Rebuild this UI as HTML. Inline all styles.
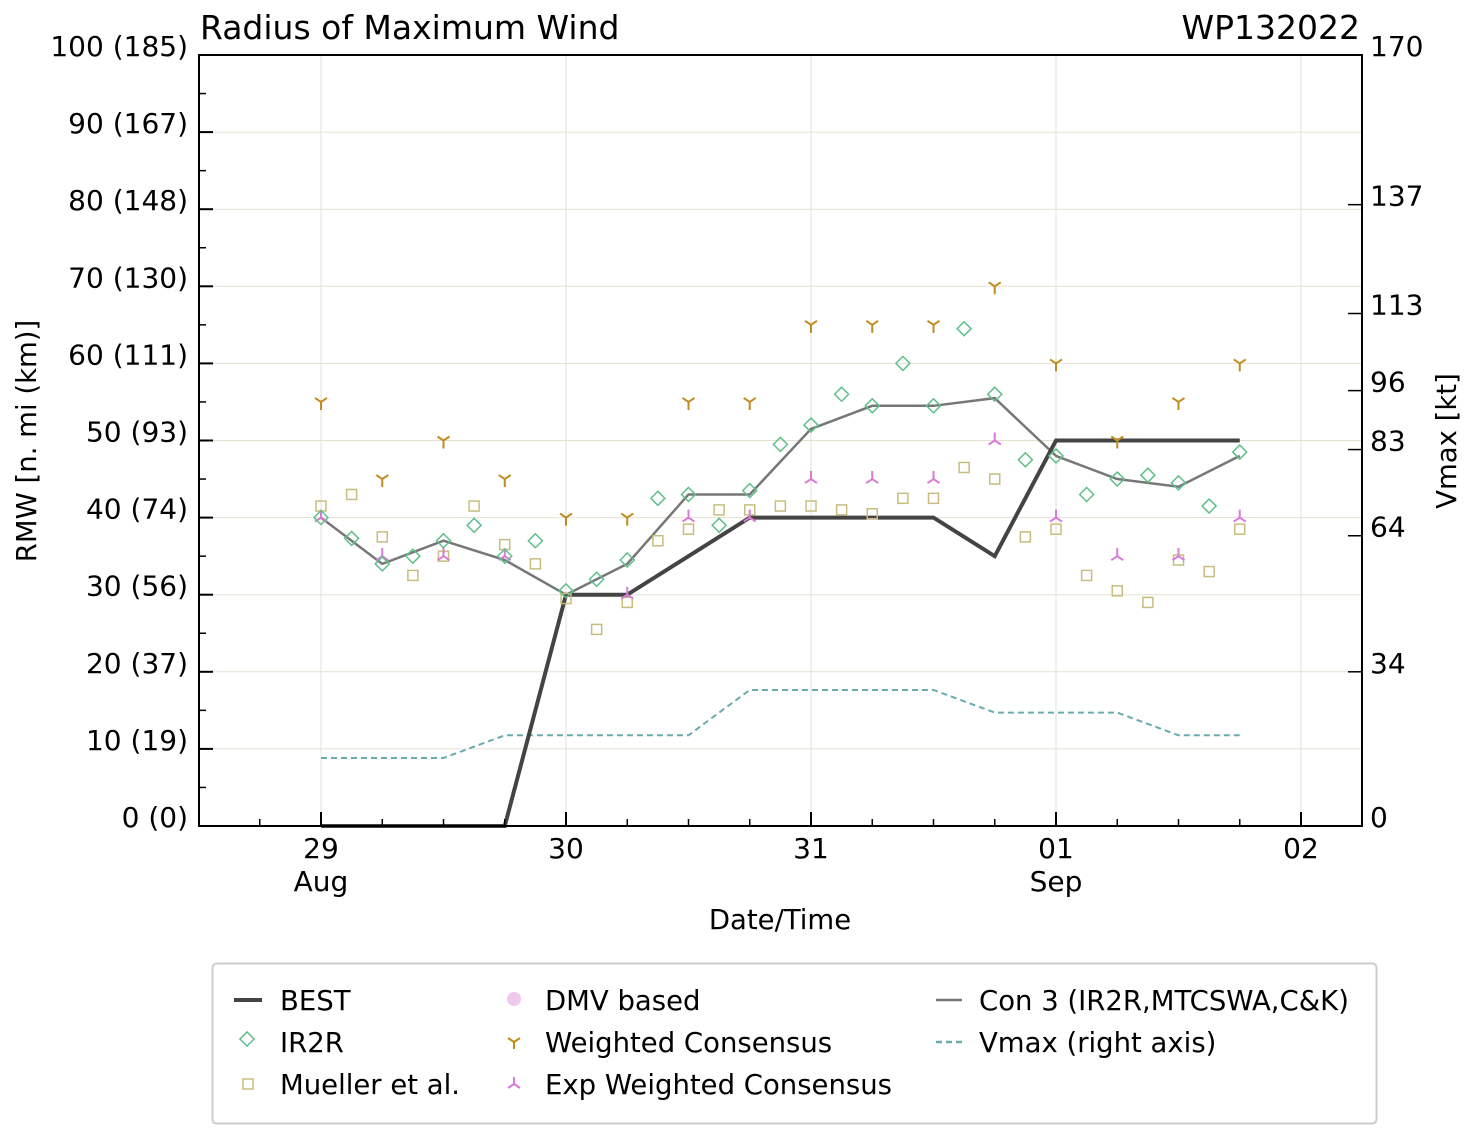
<!DOCTYPE html>
<html><head><meta charset="utf-8"><style>
body{margin:0;background:#fff;}
svg text{font-family:"DejaVu Sans","Liberation Sans",sans-serif;fill:#000;}
</style></head><body>
<svg id="c" width="1477" height="1138" xmlns="http://www.w3.org/2000/svg">
<rect width="1477" height="1138" fill="#fff"/>
<g id="grid"></g><g id="series"></g><g id="axes"></g>
<text x="200" y="39" font-size="33">Radius of Maximum Wind</text>
<text x="1360" y="39" font-size="33" text-anchor="end">WP132022</text>
<text x="780" y="929" font-size="27.5" text-anchor="middle">Date/Time</text>
<text transform="translate(36,441) rotate(-90)" font-size="27.5" text-anchor="middle">RMW [n. mi (km)]</text>
<text transform="translate(1456,441) rotate(-90)" font-size="27.5" text-anchor="middle">Vmax [kt]</text>
<g>
<rect x="212.5" y="963.5" width="1164" height="160" rx="4" fill="#fff" stroke="#ccc" stroke-width="2"/>
<line x1="234" y1="1000" x2="262" y2="1000" stroke="#444" stroke-width="4"/>
<text x="280" y="1010" font-size="27.5">BEST</text>
<rect x="242" y="1034" width="10" height="10" transform="rotate(45 247 1039)" fill="none" stroke="#5fbf8a" stroke-width="1.5"/>
<text x="280" y="1052" font-size="27.5">IR2R</text>
<rect x="243" y="1079" width="10" height="10" fill="none" stroke="#c8bd7f" stroke-width="1.5"/>
<text x="280" y="1094" font-size="27.5">Mueller et al.</text>
<circle cx="514" cy="999" r="7" fill="#f0c8ec"/>
<text x="545" y="1010" font-size="27.5">DMV based</text>
<path d="M514 1042 v7 M514 1042 l-6 -4 M514 1042 l6 -4" stroke="#c08c20" stroke-width="2" fill="none"/>
<text x="545" y="1052" font-size="27.5">Weighted Consensus</text>
<path d="M514 1084 v-7 M514 1084 l-6 4 M514 1084 l6 4" stroke="#d87ad8" stroke-width="2" fill="none"/>
<text x="545" y="1094" font-size="27.5">Exp Weighted Consensus</text>
<line x1="936" y1="1000" x2="962" y2="1000" stroke="#777" stroke-width="2.5"/>
<text x="979" y="1010" font-size="27.5">Con 3 (IR2R,MTCSWA,C&amp;K)</text>
<line x1="936" y1="1042" x2="962" y2="1042" stroke="#6aabb0" stroke-width="2.5" stroke-dasharray="6,4"/>
<text x="979" y="1052" font-size="27.5">Vmax (right axis)</text>
</g>
</svg>
<script>
const bestT=[0,2,4,6,8,10,12,14,16,18,20,22,24,26,28,30];
const bestV=[0,0,0,0,30,30,35,40,40,40,40,35,50,50,50,50];
const ir2rV=[40,37.3,34,35,37,39,35,37,30.5,32,34.5,42.5,43,39,43.5,49.5,52,56,54.5,60,54.5,64.5,56,47.5,48,43,45,45.5,44.5,41.5,48.5];
const muelV=[41.5,43,37.5,32.5,35,41.5,36.5,34,29.5,25.5,29,37,38.5,41,41,41.5,41.5,41,40.5,42.5,42.5,46.5,45,37.5,38.5,32.5,30.5,29,34.5,33,38.5];
const wcT=[0,2,4,6,8,10,12,14,16,18,20,22,24,26,28,30];
const wcV=[55,45,50,45,40,40,55,55,65,65,65,70,60,50,55,60];
const ewT=[0,2,4,6,10,12,14,16,18,20,22,24,26,28,30];
const ewV=[40,35,35,35,30,40,40,45,45,45,50,40,35,35,40];
const conT=[0,2,4,6,8,10,12,14,16,18,20,22,24,26,28,30];
const conV=[40,34,37,34.5,30,34,43,43,51.5,54.5,54.5,55.5,48,45,44,48];
const vmT=[0,2,4,6,8,10,12,14,16,18,20,22,24,26,28,30];
const vmV=[15,15,15,20,20,20,20,30,30,30,30,25,25,25,20,20];
const leftTicks=["0 (0)","10 (19)","20 (37)","30 (56)","40 (74)","50 (93)","60 (111)","70 (130)","80 (148)","90 (167)","100 (185)"];
const rightTicks=[0,34,64,83,96,113,137,170];
const dayLabels=["29","30","31","01","02"];
const monLabels=["Aug","","","Sep",""];
const NS="http://www.w3.org/2000/svg";
const L=199,R=1362,T=55,B=826;
const X=t=>321+t*245/8;
const Y=v=>B-v*(B-T)/100;
const YV=v=>B-v*(B-T)/170;
function mk(tag,attrs,parent){const e=document.createElementNS(NS,tag);for(const k in attrs)e.setAttribute(k,attrs[k]);parent.appendChild(e);return e;}
const grid=document.getElementById('grid'),ser=document.getElementById('series'),ax=document.getElementById('axes');
for(let i=0;i<=10;i++){const y=Y(i*10);
 let g=mk('line',{x1:L,x2:R,y1:y,y2:y,stroke:'#e6e0d2','stroke-width':1},grid);
 
 let tk=mk('line',{x1:L,x2:L+14,y1:y,y2:y,stroke:'#000','stroke-width':2},ax);
 
 if(i<10){let m=mk('line',{x1:L,x2:L+7,y1:Y(i*10+5),y2:Y(i*10+5),stroke:'#000','stroke-width':1.5},ax);
  }
 let t=mk('text',{x:188,y:y+1,'font-size':28,'text-anchor':'end'},ax);t.textContent=leftTicks[i];
 }
rightTicks.forEach(v=>{const y=YV(v);
 let tk=mk('line',{x1:R-14,x2:R,y1:y,y2:y,stroke:'#000','stroke-width':1.5},ax);
 
 let t=mk('text',{x:1370,y:y+1,'font-size':28},ax);t.textContent=v;
 });
for(let t=-4;t<=34;t+=2){const x=X(t);if(x<L||x>R)continue;const major=t%8===0;
 if(major){let g=mk('line',{x1:x,x2:x,y1:T,y2:B,stroke:'#e6e0d2','stroke-width':1},grid);
  }
 let tk=mk('line',{x1:x,x2:x,y1:B,y2:B-(major?14:7),stroke:'#000','stroke-width':major?2:1.5},ax);
 
 if(major){const d=t/8;let tx=mk('text',{x:x,y:858,'font-size':28,'text-anchor':'middle'},ax);tx.textContent=dayLabels[d];
  
  if(monLabels[d]){let m=mk('text',{x:x,y:891,'font-size':28,'text-anchor':'middle'},ax);m.textContent=monLabels[d];
  }}}
let fr=mk('rect',{x:L,y:T,width:R-L,height:B-T,fill:'none',stroke:'#000','stroke-width':2},ax);

function line(ts,vs,yf,style,name){const p=mk('polyline',Object.assign({points:ts.map((t,i)=>X(t)+','+yf(vs[i])).join(' '),fill:'none'},style),ser);
 }
line(vmT,vmV,YV,{stroke:'#6aabb0','stroke-width':2,'stroke-dasharray':'6,4'},'vmax-line');
line(conT,conV,Y,{stroke:'#777','stroke-width':2.5},'con3-line');
line(bestT,bestV,Y,{stroke:'#444','stroke-width':4},'best-track-line');
muelV.forEach((v,i)=>{const x=X(i),y=Y(v);const r=mk('rect',{x:x-5,y:y-5,width:10,height:10,fill:'none',stroke:'#c8bd7f','stroke-width':1.5},ser);
 });
ewT.forEach((t,i)=>{const x=X(t),y=Y(ewV[i]);const p=mk('path',{d:`M${x} ${y} v-8 M${x} ${y} l-6 4 M${x} ${y} l6 4`,stroke:'#d87ad8','stroke-width':2,fill:'none'},ser);
 });
wcT.forEach((t,i)=>{const x=X(t),y=Y(wcV[i]);const p=mk('path',{d:`M${x} ${y} v8 M${x} ${y} l-6 -4 M${x} ${y} l6 -4`,stroke:'#c08c20','stroke-width':2,fill:'none'},ser);
 });
ir2rV.forEach((v,i)=>{const x=X(i),y=Y(v);const p=mk('path',{d:`M${x} ${y-7} L${x+7} ${y} L${x} ${y+7} L${x-7} ${y} Z`,stroke:'#5fbf8a','stroke-width':1.5,fill:'none'},ser);
 });
</script>
</body></html>
